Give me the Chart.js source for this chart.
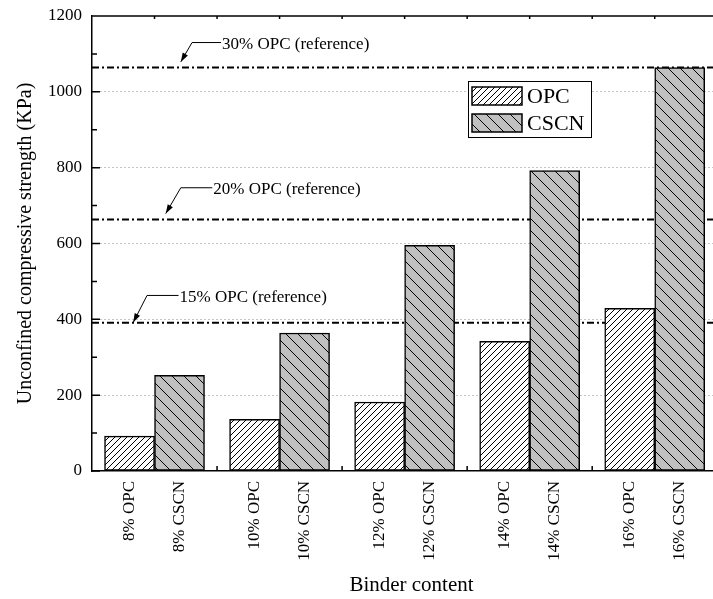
<!DOCTYPE html>
<html>
<head>
<meta charset="utf-8">
<script src="https://cdn.jsdelivr.net/npm/chart.js@4.4.0/dist/chart.umd.min.js"></script>
<style>
    html, body { margin: 0; padding: 0; background: #fff; overflow: hidden; }
    /* plot frame runs past the right edge of the window, as in the source figure */
    #wrap { position: relative; width: 731px; height: 599px; }
</style>
</head>
<body>
<div id="wrap"><canvas id="chart"></canvas></div>
<script>
// --- data ---
const binderLevels = ['8%', '10%', '12%', '14%', '16%'];
const opcValues = [92, 136, 182, 342, 429];
const cscnValues = [252, 364, 595, 792, 1064];
const refLabels = ['15% OPC (reference)', '20% OPC (reference)', '30% OPC (reference)'];
const refValues = [391, 663, 1064];
const yMin = 0, yMax = 1200, yMajorStep = 200, yMinorStep = 100;

// callout anchors in data units (tip, elbow, text start)
const refNotes = [
    { tipX: 0.83, tipY: 392, elbowX: 0.94, elbowY: 463, textX: 1.2 },
    { tipX: 1.09, tipY: 679, elbowX: 1.21, elbowY: 747, textX: 1.47 },
    { tipX: 1.21, tipY: 1079, elbowX: 1.30, elbowY: 1130, textX: 1.54 }
];

const serif = "'Liberation Serif', 'Times New Roman', serif";
const xMinVal = 0.5, xMaxVal = 5.61;
const halfBar = 0.2; // bar centre offset from group centre, in x units

const canvas = document.getElementById('chart');
const ctx = canvas.getContext('2d');

// --- hatch fills ---
function makeHatch(bg, dir, size) {
    const c = document.createElement('canvas');
    c.width = size; c.height = size;
    const g = c.getContext('2d');
    g.fillStyle = bg;
    g.fillRect(0, 0, size, size);
    g.strokeStyle = '#000';
    g.lineWidth = 1;
    g.beginPath();
    if (dir === '/') {
        g.moveTo(-1, size + 1); g.lineTo(size + 1, -1);
        g.moveTo(-1, 1); g.lineTo(1, -1);
        g.moveTo(size - 1, size + 1); g.lineTo(size + 1, size - 1);
    } else {
        g.moveTo(-1, -1); g.lineTo(size + 1, size + 1);
        g.moveTo(size - 1, -1); g.lineTo(size + 1, 1);
        g.moveTo(-1, size - 1); g.lineTo(1, size + 1);
    }
    g.stroke();
    return ctx.createPattern(c, 'repeat');
}
const opcFill = makeHatch('#ffffff', '/', 6);
const cscnFill = makeHatch('#c0c0c0', '\\', 12);

const groupX = binderLevels.map((b, i) => i + 1);
const tickPos = [];
const tickText = [];
binderLevels.forEach((b, i) => {
    tickPos.push(groupX[i] - halfBar, groupX[i] + halfBar);
    tickText.push(b + ' OPC', b + ' CSCN');
});

const barDatasets = [
    { label: 'OPC', values: opcValues, fill: opcFill },
    { label: 'CSCN', values: cscnValues, fill: cscnFill }
].map(s => ({
    type: 'bar',
    label: s.label,
    data: groupX.map((x, i) => ({ x: x, y: s.values[i] })),
    backgroundColor: s.fill,
    borderColor: '#000',
    borderWidth: 1.5,
    borderSkipped: false,
    barThickness: 50,
    order: 0
}));

const refDatasets = refValues.map((v, i) => ({
    type: 'line',
    label: refLabels[i],
    data: [{ x: xMinVal, y: v }, { x: xMaxVal, y: v }],
    borderColor: '#000',
    borderWidth: 2,
    borderDash: [7, 3, 2, 3],
    pointRadius: 0,
    fill: false,
    order: 1
}));

// --- frame ticks, callouts and legend ---
const decorPlugin = {
    id: 'decor',
    afterDatasetsDraw(chart) {
        const c = chart.ctx;
        const a = chart.chartArea;
        const xs = chart.scales.x, ys = chart.scales.y;
        c.save();
        c.strokeStyle = '#000';
        c.lineWidth = 1.5;
        c.beginPath();
        // top frame
        c.moveTo(a.left, a.top); c.lineTo(a.right, a.top);
        // y ticks (inward)
        for (let v = yMin; v <= yMax; v += yMinorStep) {
            const py = ys.getPixelForValue(v);
            const len = (v % yMajorStep === 0) ? 8 : 5;
            c.moveTo(a.left, py); c.lineTo(a.left + len, py);
        }
        // x ticks: bottom at group midpoints, top at centres + midpoints
        groupX.forEach((g, i) => {
            const pc = xs.getPixelForValue(g);
            c.moveTo(pc, a.top); c.lineTo(pc, a.top + 3);
            if (i < groupX.length - 1) {
                const pm = xs.getPixelForValue(g + 0.5);
                c.moveTo(pm, a.bottom); c.lineTo(pm, a.bottom - 5);
                c.moveTo(pm, a.top); c.lineTo(pm, a.top + 3);
            }
        });
        c.stroke();

        // callouts
        c.lineWidth = 1;
        c.fillStyle = '#000';
        c.font = '17px ' + serif;
        c.textBaseline = 'middle';
        c.textAlign = 'left';
        refNotes.forEach((n, i) => {
            const tx = xs.getPixelForValue(n.tipX), ty = ys.getPixelForValue(n.tipY);
            const ex = xs.getPixelForValue(n.elbowX), ey = ys.getPixelForValue(n.elbowY);
            const sx = xs.getPixelForValue(n.textX);
            c.beginPath();
            c.moveTo(sx - 1, ey); c.lineTo(ex, ey); c.lineTo(tx, ty);
            c.stroke();
            const ang = Math.atan2(ty - ey, tx - ex);
            const L = 9, W = 3;
            c.beginPath();
            c.moveTo(tx, ty);
            c.lineTo(tx - L * Math.cos(ang) + W * Math.sin(ang), ty - L * Math.sin(ang) - W * Math.cos(ang));
            c.lineTo(tx - L * Math.cos(ang) - W * Math.sin(ang), ty - L * Math.sin(ang) + W * Math.cos(ang));
            c.closePath();
            c.fill();
            c.fillText(refLabels[i], sx, ey + 2);
        });

        // legend box
        const lg = chart.options.plugins.boxLegend;
        c.lineWidth = 1;
        c.strokeStyle = '#000';
        c.fillStyle = '#fff';
        c.fillRect(lg.x, lg.y, lg.w, lg.h);
        c.strokeRect(lg.x + 0.5, lg.y + 0.5, lg.w, lg.h);
        c.font = '22px ' + serif;
        chart.data.datasets.filter(d => d.type === 'bar').forEach((d, i) => {
            const y0 = lg.y + 6 + i * 27;
            c.fillStyle = d.backgroundColor;
            c.fillRect(lg.x + 4, y0, 50, 18);
            c.lineWidth = 1.5;
            c.strokeRect(lg.x + 4, y0, 50, 18);
            c.fillStyle = '#000';
            c.fillText(d.label, lg.x + 59, y0 + 10);
        });
        c.restore();
    }
};

new Chart(ctx, {
    data: { datasets: [...barDatasets, ...refDatasets] },
    options: {
        responsive: true,
        maintainAspectRatio: false,
        animation: false,
        layout: { autoPadding: false, padding: { top: 16, right: 0, bottom: 0, left: 0 } },
        plugins: {
            legend: { display: false },
            tooltip: { enabled: false },
            boxLegend: { x: 468, y: 81, w: 123, h: 56 }
        },
        scales: {
            x: {
                type: 'linear',
                offset: false,
                min: xMinVal,
                max: xMaxVal,
                afterBuildTicks: s => { s.ticks = tickPos.map(v => ({ value: v })); },
                afterFit: s => { s.height = 128; s.paddingLeft = 0; s.paddingRight = 0; },
                grid: { display: false, drawTicks: false },
                border: { display: true, color: '#000', width: 1.5 },
                ticks: {
                    autoSkip: false,
                    minRotation: 90,
                    maxRotation: 90,
                    padding: 10,
                    color: '#000',
                    font: { family: serif, size: 17 },
                    callback: (v, i) => tickText[i]
                },
                title: {
                    display: true,
                    text: 'Binder content',
                    color: '#000',
                    font: { family: serif, size: 21 },
                    padding: { top: 0, bottom: 1 }
                }
            },
            y: {
                min: yMin,
                max: yMax,
                afterFit: s => { s.width = 92; s.paddingTop = 0; s.paddingBottom = 0; },
                ticks: {
                    stepSize: yMajorStep,
                    padding: 10,
                    color: '#000',
                    font: { family: serif, size: 17 },
                    callback: v => String(v)
                },
                grid: {
                    drawTicks: false,
                    lineWidth: 1,
                    color: c => (c.tick && (c.tick.value === yMin || c.tick.value === yMax)) ? 'rgba(0,0,0,0)' : '#8a8a8a'
                },
                border: { display: true, color: '#000', width: 1.5, dash: [1, 3] },
                title: {
                    display: true,
                    text: 'Unconfined compressive strength (KPa)',
                    color: '#000',
                    font: { family: serif, size: 20 },
                    padding: { top: 14, bottom: 0 }
                }
            }
        }
    },
    plugins: [decorPlugin]
});
</script>
</body>
</html>
